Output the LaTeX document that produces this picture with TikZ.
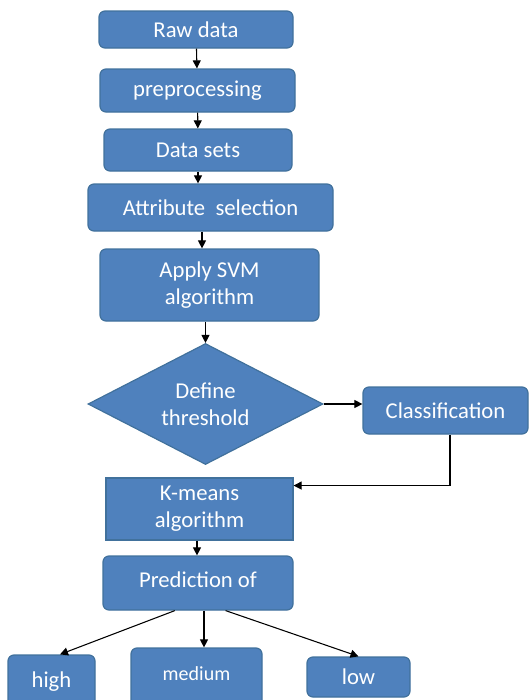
\documentclass[tikz,border=0pt]{standalone}
\usepackage{fontspec}
\setmainfont{Carlito}
\usetikzlibrary{shapes.geometric,arrows.meta}
\definecolor{boxfill}{HTML}{4F81BD}
\definecolor{boxline}{HTML}{41719C}
\tikzset{%
  stepnode/.style = {shape=rectangle, rounded corners=4.5pt,%
                     draw=boxline, line width=0.9pt, fill=boxfill,%
                     text=white, align=center, inner sep=2pt,%
                     font=\fontsize{17}{20.5}\selectfont},%
  plainnode/.style = {stepnode, sharp corners},%
  decision/.style  = {stepnode, shape=diamond, aspect=2, inner sep=0pt, sharp corners},%
  flow/.style      = {draw, line width=0.8pt, -{Triangle[length=6pt,width=6pt]}}%
}
\begin{document}
\begin{tikzpicture}[x=0.75pt,y=-0.75pt]
	\useasboundingbox (0,0) rectangle (529,700);
	\clip (0,0) rectangle (529,700);
	\node[stepnode,minimum width=145.5pt,minimum height=27.75pt] (raw) at (196,29.5) {Raw data};
	\node[stepnode,minimum width=146.25pt,minimum height=32.25pt] (pre) at (197.5,90.5) {preprocessing};
	\node[stepnode,minimum width=141pt,minimum height=31.5pt] (sets) at (198,150) {Data sets};
	\node[stepnode,minimum width=183.75pt,minimum height=35.25pt] (attr) at (210.5,207.5) {Attribute\ \ selection};
	\node[stepnode,minimum width=164.25pt,minimum height=54pt] (svm) at (209.5,285) {Apply SVM\\algorithm};
	\node[decision,minimum width=176.25pt,minimum height=90.75pt] (thr) at (205.5,404) {Define\\threshold};
	\node[stepnode,minimum width=123.75pt,minimum height=35.25pt] (cls) at (445.5,410.5) {Classification};
	\node[plainnode,minimum width=140.25pt,minimum height=46.5pt] (kmeans) at (199.5,509) {K-means\\algorithm};
	\node[stepnode,minimum width=142.5pt,minimum height=40.5pt] (pred) at (198,583) {\raisebox{4.5pt}{Prediction of}};
	\node[stepnode,minimum width=65.25pt,minimum height=41.25pt] (high) at (51.5,682.5) {\raisebox{4pt}{high}};
	\node[stepnode,minimum width=98.25pt,minimum height=46.5pt] (medium) at (196.5,679) {\raisebox{8pt}{\fontsize{15}{18}\selectfont medium}};
	\node[stepnode,minimum width=77.25pt,minimum height=30pt] (low) at (358.5,677) {low};
	\draw[flow] (raw) -- (pre);
	\draw[flow] (pre) -- (sets);
	\draw[flow] (sets.south) -- (sets.south |- attr.north);
	\draw[flow] (attr.south -| 202,0) -- (svm.north -| 202,0);
	\draw[flow] (svm.south -| thr.north) -- (thr.north);
	\draw[flow] (thr.east) -- (cls.west |- thr.east);
	\draw[flow] (cls.south -| 450,0) |- (kmeans.14);
	\draw[flow] (kmeans.south -| 197,0) -- (pred.north -| 197,0);
	\draw[flow] (pred.230) -- (high.north -| 60,0);
	\draw[flow] (pred.south -| 204,0) -- (medium.north -| 204,0);
	\draw[flow] (pred.315) -- (low.north);
\end{tikzpicture}
\end{document}
